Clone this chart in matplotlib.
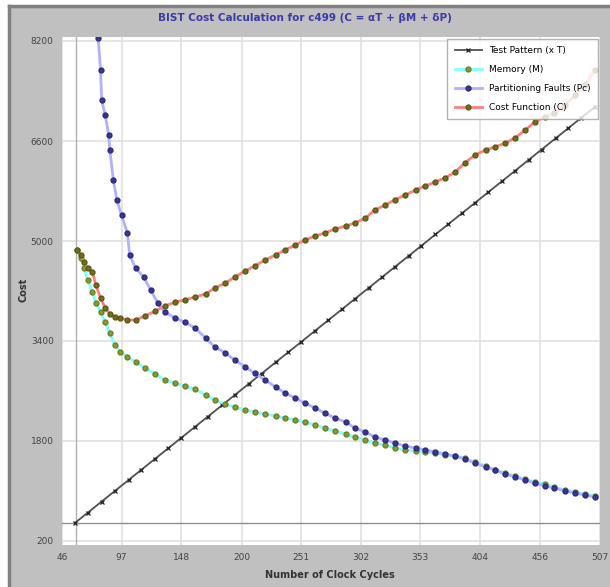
import matplotlib
matplotlib.use("Agg")
import matplotlib.pyplot as plt
from matplotlib.patches import Rectangle

# ---------------- data ----------------
cycles = [59, 62, 65, 68, 72, 75, 79, 83, 87, 91, 96, 102, 109, 117, 126, 134, 143, 151, 160, 169,
          177, 186, 194, 203, 211, 220, 229, 237, 246, 254, 263, 271, 280, 289, 297, 306, 314, 323, 331, 340,
          349, 357, 366, 374, 383, 391, 400, 409, 417, 426, 434, 443, 451, 460, 468, 477, 486, 494, 503]

cost = [4856, 4776, 4664, 4568, 4504, 4296, 4088, 3928, 3832, 3784,
        3768, 3736, 3736, 3800, 3880, 3960, 4024, 4056, 4104, 4152,
        4248, 4328, 4424, 4520, 4600, 4696, 4776, 4856, 4936, 5016,
        5080, 5128, 5192, 5240, 5288, 5368, 5496, 5576, 5656, 5736,
        5816, 5880, 5944, 6008, 6104, 6248, 6376, 6456, 6504, 6568,
        6648, 6776, 6904, 6984, 7048, 7176, 7336, 7496, 7736]

memory = [4856, 4728, 4568, 4376, 4184, 4008, 3864, 3704, 3528, 3336,
          3224, 3144, 3064, 2968, 2872, 2776, 2728, 2680, 2632, 2536,
          2456, 2392, 2344, 2296, 2264, 2232, 2200, 2168, 2136, 2104,
          2056, 2008, 1960, 1912, 1864, 1816, 1768, 1736, 1688, 1656,
          1640, 1624, 1608, 1576, 1560, 1528, 1464, 1400, 1336, 1288,
          1240, 1192, 1144, 1112, 1064, 1016, 984, 952, 920]

part_cycles = [75, 77, 79, 80, 83, 86, 87, 90, 93, 97, 102, 104, 109, 116, 122, 128, 134, 143, 151, 160,
               169, 177, 186, 194, 203, 211, 220, 229, 237, 246, 254, 263, 271, 280, 289, 297, 306, 314, 323, 331,
               340, 349, 357, 366, 374, 383, 391, 400, 409, 417, 426, 434, 443, 451, 460, 468, 477, 486, 494, 503]
partition = [9016, 8248, 7736, 7256, 7016, 6696, 6456, 5976, 5656, 5416,
             5128, 4776, 4568, 4424, 4216, 4008, 3864, 3768, 3704, 3608,
             3448, 3304, 3208, 3096, 2984, 2888, 2776, 2664, 2568, 2488,
             2408, 2328, 2248, 2168, 2104, 2008, 1944, 1864, 1816, 1768,
             1720, 1688, 1656, 1624, 1592, 1560, 1512, 1448, 1384, 1336,
             1272, 1224, 1176, 1128, 1080, 1048, 1000, 968, 936, 904]

test_cycles = [57, 68, 80, 91, 103, 114, 126, 137, 148, 160, 171, 183, 194, 206, 217, 229, 240, 251, 263, 274,
               286, 297, 309, 320, 331, 343, 354, 366, 377, 389, 400, 411, 423, 434, 446, 457, 469, 480, 491, 503]
test_pattern = [488, 652, 832, 996, 1175, 1340, 1519, 1683, 1848, 2027, 2191, 2370, 2535, 2714, 2878, 3058,
                3222, 3386, 3566, 3730, 3909, 4074, 4253, 4417, 4582, 4761, 4925, 5105, 5269, 5448, 5612,
                5777, 5956, 6120, 6300, 6464, 6643, 6808, 6972, 7151]

x_ticks = [46, 97, 148, 200, 251, 302, 353, 404, 456, 507]
y_ticks = [200, 1800, 3400, 5000, 6600, 8200]

title = "BIST Cost Calculation for c499 (C = \u03b1T + \u03b2M + \u03b4P)"
labels = ["Test Pattern (x T)", "Memory (M)", "Partitioning Faults (Pc)", "Cost Function (C)"]

# ---------------- figure ----------------
W, H = 610, 587
fig = plt.figure(figsize=(W / 100, H / 100), dpi=100, facecolor="white")
fig.patches.append(Rectangle((9 / W, 0), 1 - 9 / W, 1 - 6 / H, transform=fig.transFigure,
                             facecolor="#c0c0c0", edgecolor="none", zorder=-10))
fig.lines.append(plt.Line2D([9 / W, 9 / W], [0, 1 - 6 / H], transform=fig.transFigure,
                            color="#808080", lw=2.5))
fig.lines.append(plt.Line2D([9 / W, 1], [1 - 6 / H, 1 - 6 / H], transform=fig.transFigure,
                            color="#808080", lw=2.5))

ax = fig.add_axes([62 / W, 1 - 545 / H, 538 / W, 508 / H])
ax.set_facecolor("white")
ax.set_xlim(46, 507)
ax.set_ylim(136, 8264)

ax.set_xticks(x_ticks)
ax.set_yticks(y_ticks)
ax.tick_params(axis="both", labelsize=6.5, colors="#444444", length=0, pad=6)
ax.grid(True, color="#e0e0e0", lw=1.2)
ax.set_axisbelow(True)
for s in ax.spines.values():
    s.set_visible(False)

# inner axis lines
ax.axhline(test_pattern[0], color="#909090", lw=1.0, zorder=1)
ax.axvline(58, color="#b0b0b0", lw=1.0, zorder=1)

ax.plot(test_cycles, test_pattern, color="#505050", lw=1.3, marker="x", ms=3,
        mec="#202020", mew=0.9, label=labels[0], zorder=3)
ax.plot(cycles, memory, color="#80ffff", lw=2.0, marker="o", ms=3.5,
        mfc="#8a9a30", mec="#6f7f20", label=labels[1], zorder=4)
ax.plot(part_cycles, partition, color="#b0b0ff", lw=2.0, marker="o", ms=3.5,
        mfc="#383890", mec="#2a2a78", label=labels[2], zorder=5)
ax.plot(cycles, cost, color="#ff8080", lw=2.0, marker="o", ms=3.5,
        mfc="#6f6f1e", mec="#5a5a14", label=labels[3], zorder=6)

leg = ax.legend(loc="upper right", fontsize=6.5, frameon=True, fancybox=False,
                borderpad=0.8, labelspacing=1.1, handlelength=3.0, borderaxespad=0.25)
leg.get_frame().set_edgecolor("#a0a0a0")
leg.get_frame().set_linewidth(1.0)
leg.set_zorder(10)

fig.text(0.5, 1 - 18 / H, title, ha="center", va="center", fontsize=7.5,
         fontweight="bold", color="#3a3aa8")
fig.text(330 / W, 1 - 575 / H, "Number of Clock Cycles", ha="center", va="center",
         fontsize=7, fontweight="bold", color="#333333")
fig.text(23 / W, 1 - 290 / H, "Cost", ha="center", va="center", rotation=90,
         fontsize=7, fontweight="bold", color="#333333")

fig.savefig("out.png", dpi=100, facecolor=fig.get_facecolor())
